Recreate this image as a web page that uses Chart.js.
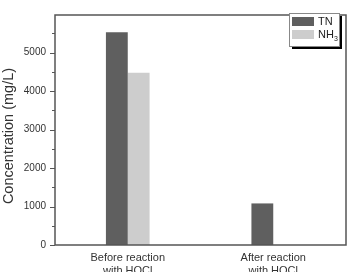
<!DOCTYPE html>
<html lang="en">
  <head>
    <meta charset="UTF-8" />
    <title>Concentration before and after reaction with HOCl</title>
    <style>
      html, body { margin: 0; padding: 0; background: #fff; }
      #wrap { width: 350px; height: 272px; }
    </style>
    <script src="https://cdn.jsdelivr.net/npm/chart.js"></script>
  </head>
  <body>
    <div id="wrap"><canvas id="barChart" width="350" height="272"></canvas></div>
    <script>
      const categories = [["Before reaction", "with HOCl"], ["After reaction", "with HOCl"]];
      const tnValues = [5525, 1080];
      const nh3Values = [4475, 0];
      const seriesNames = ["TN", "NH3"];
      const yTicks = [0, 1000, 2000, 3000, 4000, 5000];
      const yMinorTicks = [500, 1500, 2500, 3500, 4500, 5500];
      const yTitle = "Concentration (mg/L)";

      const frameColor = "#555";
      const textColor = "#333";

      // frame, outward ticks, y title and the boxed legend with shadow
      const decorations = {
        id: "decorations",
        afterDraw(chart) {
          const ctx = chart.ctx;
          const a = chart.chartArea;
          const y = chart.scales.y;
          ctx.save();
          ctx.strokeStyle = frameColor;
          ctx.lineWidth = 1.5;
          ctx.strokeRect(a.left, a.top, a.right - a.left, a.bottom - a.top);

          ctx.lineWidth = 1;
          yTicks.forEach((v) => {
            const py = Math.round(y.getPixelForValue(v)) + 0.5;
            ctx.beginPath();
            ctx.moveTo(a.left - 5, py);
            ctx.lineTo(a.left, py);
            ctx.stroke();
          });
          yMinorTicks.forEach((v) => {
            const py = Math.round(y.getPixelForValue(v)) + 0.5;
            ctx.beginPath();
            ctx.moveTo(a.left - 3, py);
            ctx.lineTo(a.left, py);
            ctx.stroke();
          });

          // y axis title, sits a bit below the axis middle like the original
          ctx.save();
          ctx.translate(9, 136);
          ctx.rotate(-Math.PI / 2);
          ctx.fillStyle = textColor;
          ctx.font = "14.5px 'Liberation Sans', Arial, sans-serif";
          ctx.textAlign = "center";
          ctx.textBaseline = "middle";
          ctx.fillText(yTitle, 0, 0);
          ctx.restore();

          // legend
          const lx = 289, ly = 13, lw = 50, lh = 33;
          ctx.fillStyle = "#000";
          ctx.fillRect(lx + 3, ly + 3, lw, lh);
          ctx.fillStyle = "#fff";
          ctx.fillRect(lx, ly, lw, lh);
          ctx.strokeStyle = "#888";
          ctx.strokeRect(lx + 0.5, ly + 0.5, lw, lh);
          chart.data.datasets.forEach((ds, i) => {
            const ry = ly + 4 + i * 13;
            ctx.fillStyle = ds.backgroundColor;
            ctx.fillRect(lx + 3, ry, 22, 9);
            ctx.fillStyle = "#222";
            ctx.font = "11px 'Liberation Sans', Arial, sans-serif";
            ctx.textBaseline = "middle";
            ctx.textAlign = "left";
            const name = seriesNames[i];
            if (name === "NH3") {
              ctx.fillText("NH", lx + 29, ry + 5);
              const w = ctx.measureText("NH").width;
              ctx.font = "7px 'Liberation Sans', Arial, sans-serif";
              ctx.fillText("3", lx + 29 + w, ry + 9);
            } else {
              ctx.fillText(name, lx + 29, ry + 5);
            }
          });
          ctx.restore();
        },
      };

      new Chart(document.getElementById("barChart").getContext("2d"), {
        type: "bar",
        data: {
          labels: categories,
          datasets: [
            {
              label: seriesNames[0],
              data: tnValues,
              backgroundColor: "#5f5f5f",
              borderWidth: 0,
              barPercentage: 1,
              categoryPercentage: 0.3,
            },
            {
              label: seriesNames[1],
              data: nh3Values,
              backgroundColor: "#cdcdcd",
              borderWidth: 0,
              barPercentage: 1,
              categoryPercentage: 0.3,
            },
          ],
        },
        options: {
          responsive: false,
          animation: false,
          layout: { padding: { top: 6, right: 4, left: 0, bottom: 0 } },
          plugins: {
            legend: { display: false },
            tooltip: { enabled: false },
          },
          scales: {
            x: {
              grid: { display: false, drawTicks: false },
              border: { display: false },
              ticks: {
                color: textColor,
                font: { family: "'Liberation Sans', Arial, sans-serif", size: 11 },
                padding: 6,
                maxRotation: 0,
              },
              afterFit(scale) {
                scale.height = 27;
              },
            },
            y: {
              min: 0,
              max: 5975,
              grid: { display: false, drawTicks: false },
              border: { display: false },
              afterBuildTicks(scale) {
                scale.ticks = yTicks.map((v) => ({ value: v }));
              },
              ticks: {
                color: textColor,
                font: { family: "'Liberation Sans', Arial, sans-serif", size: 10 },
                padding: 9,
                callback: (v) => String(v),
              },
              afterFit(scale) {
                scale.width = 55;
              },
            },
          },
        },
        plugins: [decorations],
      });
    </script>
  </body>
</html>
